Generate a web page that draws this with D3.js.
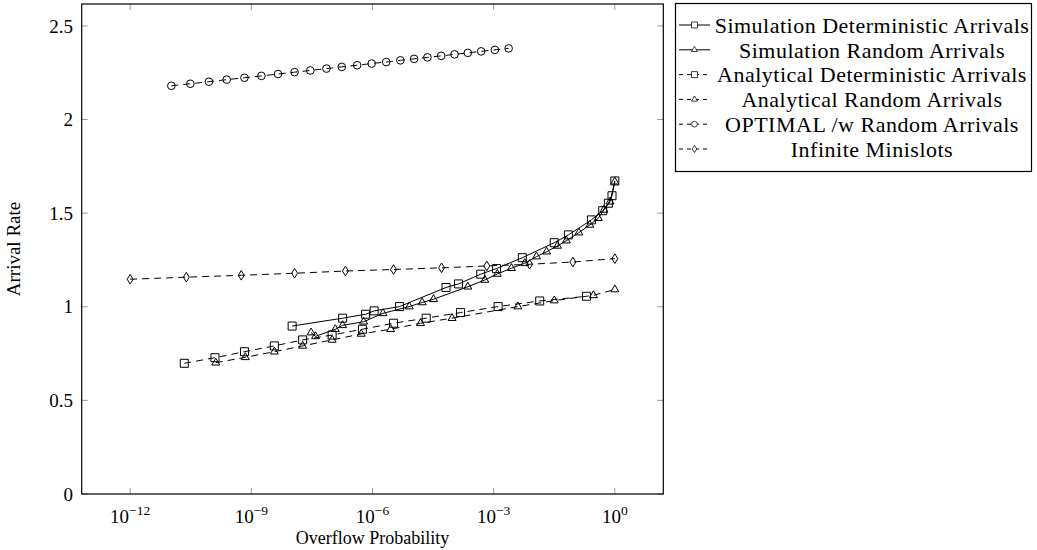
<!DOCTYPE html>
<html lang="en">
<head>
    <meta charset="UTF-8">
    <title>Arrival Rate vs Overflow Probability</title>
    <script src="https://d3js.org/d3.v7.min.js"></script>
</head>
<style>
    body { margin: 0; background: white; }
    text { font-family: "Liberation Serif", "DejaVu Serif", serif; fill: black; }
</style>
<body>
<svg id="main" width="1037" height="550"></svg>
<script>
    // overflow probability is kept as log10 exponent, arrival rate as is
    const simDetLogP  = [-7.99, -6.74, -6.17, -5.96, -5.33, -4.18, -3.87, -3.32, -2.93, -2.29, -1.50, -1.15, -0.58, -0.30, -0.16, -0.07, 0];
    const simDetRate  = [0.897, 0.939, 0.960, 0.978, 1.001, 1.103, 1.122, 1.174, 1.204, 1.262, 1.342, 1.384, 1.464, 1.513, 1.553, 1.593, 1.672];

    const simRndLogP  = [-7.52, -7.41, -6.92, -6.74, -6.22, -5.74, -5.09, -4.77, -4.49, -3.64, -3.22, -2.91, -2.56, -2.23, -1.94, -1.69, -1.42, -1.20, -0.89, -0.62, -0.41, -0.27, -0.12, 0];
    const simRndRate  = [0.862, 0.842, 0.880, 0.901, 0.920, 0.965, 1.001, 1.023, 1.040, 1.107, 1.143, 1.175, 1.206, 1.232, 1.268, 1.294, 1.325, 1.353, 1.396, 1.437, 1.473, 1.517, 1.561, 1.668];

    const anaDetLogP  = [-10.66, -9.90, -9.17, -8.43, -7.73, -7.00, -6.25, -5.48, -4.67, -3.82, -2.89, -1.86, -0.70];
    const anaDetRate  = [0.698, 0.728, 0.760, 0.791, 0.823, 0.849, 0.880, 0.912, 0.939, 0.969, 1.001, 1.031, 1.056];

    const anaRndLogP  = [-9.88, -9.15, -8.43, -7.73, -7.00, -6.28, -5.55, -4.81, -4.03, -2.40, -1.50, -0.53, 0];
    const anaRndRate  = [0.701, 0.730, 0.760, 0.791, 0.823, 0.855, 0.880, 0.912, 0.939, 1.001, 1.033, 1.061, 1.092];

    const optLogP     = [-10.98, -10.51, -10.05, -9.61, -9.17, -8.75, -8.34, -7.93, -7.54, -7.14, -6.76, -6.38, -6.02, -5.66, -5.31, -4.97, -4.64, -4.30, -3.97, -3.64, -3.31, -2.97, -2.63];
    const optRate     = [2.180, 2.191, 2.202, 2.213, 2.223, 2.233, 2.243, 2.253, 2.262, 2.272, 2.281, 2.290, 2.299, 2.307, 2.316, 2.324, 2.332, 2.340, 2.348, 2.356, 2.364, 2.372, 2.380];

    const infLogP     = [-12, -10.61, -9.25, -7.93, -6.67, -5.48, -4.29, -3.17, -2.11, -1.04, 0];
    const infRate     = [1.147, 1.158, 1.168, 1.179, 1.191, 1.199, 1.208, 1.218, 1.227, 1.239, 1.257];

    const xTickExp = [-12, -9, -6, -3, 0];
    const yTicks = [0, 0.5, 1, 1.5, 2, 2.5];

    const series = [
        {name: 'Simulation Deterministic Arrivals', logp: simDetLogP, rate: simDetRate, mark: 'square', dashed: false},
        {name: 'Simulation Random Arrivals', logp: simRndLogP, rate: simRndRate, mark: 'triangle', dashed: false},
        {name: 'Analytical Deterministic Arrivals', logp: anaDetLogP, rate: anaDetRate, mark: 'square', dashed: true},
        {name: 'Analytical Random Arrivals', logp: anaRndLogP, rate: anaRndRate, mark: 'triangle', dashed: true},
        {name: 'OPTIMAL /w Random Arrivals', logp: optLogP, rate: optRate, mark: 'circle', dashed: true},
        {name: 'Infinite Minislots', logp: infLogP, rate: infRate, mark: 'diamond', dashed: true}
    ];

    let svg = d3.select('svg#main');
    let plotLeft = 81.7, plotRight = 663.3, plotTop = 4, plotBottom = 494;

    let xScale = d3.scaleLog()
        .domain([Math.pow(10, -13.2), Math.pow(10, 1.2)])
        .range([plotLeft, plotRight]);
    let yScale = d3.scaleLinear()
        .domain([0, 2.617])
        .range([plotBottom, plotTop]);

    const tickColor = '#9a9a9a';

    // ticks, drawn inwards on all four sides like pgfplots
    let xTickG = svg.append('g');
    xTickExp.forEach(function (e) {
        let px = xScale(Math.pow(10, e));
        xTickG.append('line').attr('x1', px).attr('x2', px).attr('y1', plotBottom).attr('y2', plotBottom - 6)
            .attr('stroke', tickColor);
        xTickG.append('line').attr('x1', px).attr('x2', px).attr('y1', plotTop).attr('y2', plotTop + 6)
            .attr('stroke', tickColor);
        let t = xTickG.append('text').attr('x', px).attr('y', 523).attr('text-anchor', 'middle')
            .style('font-size', '19px');
        t.append('tspan').text('10');
        t.append('tspan').attr('dy', -8).style('font-size', '13.5px').text(e === 0 ? '0' : '\u2212' + (-e));
    });

    let yTickG = svg.append('g');
    yTicks.forEach(function (v) {
        let py = yScale(v);
        yTickG.append('line').attr('x1', plotLeft).attr('x2', plotLeft + 6).attr('y1', py).attr('y2', py)
            .attr('stroke', tickColor);
        yTickG.append('line').attr('x1', plotRight).attr('x2', plotRight - 6).attr('y1', py).attr('y2', py)
            .attr('stroke', tickColor);
        yTickG.append('text').attr('x', 73).attr('y', py).attr('dy', '0.35em')
            .attr('text-anchor', 'end').style('font-size', '19px').text(v);
    });

    // frame
    svg.append('rect').attr('x', plotLeft).attr('y', plotTop)
        .attr('width', plotRight - plotLeft).attr('height', plotBottom - plotTop)
        .attr('fill', 'none').attr('stroke', 'black').attr('stroke-width', 1.2);

    svg.append('text').attr('x', (plotLeft + plotRight) / 2).attr('y', 544)
        .attr('text-anchor', 'middle').style('font-size', '18px').text('Overflow Probability');
    svg.append('text').attr('transform', 'translate(20,' + ((plotTop + plotBottom) / 2) + ') rotate(-90)')
        .attr('text-anchor', 'middle').style('font-size', '19px').text('Arrival Rate');

    function markPath(kind) {
        if (kind === 'square') return d3.symbol(d3.symbolSquare, 64)();
        if (kind === 'triangle') return 'M0,-4.6L4,2.3L-4,2.3Z';
        if (kind === 'circle') return d3.symbol(d3.symbolCircle, 46)();
        return 'M0,-4.8L3,0L0,4.8L-3,0Z';
    }

    let line = d3.line()
        .x(d => xScale(Math.pow(10, d[0])))
        .y(d => yScale(d[1]));

    let plotG = svg.append('g');
    series.forEach(function (s) {
        let pts = s.logp.map((p, i) => [p, s.rate[i]]);
        plotG.append('path').attr('d', line(pts))
            .attr('fill', 'none').attr('stroke', 'black').attr('stroke-width', 1)
            .attr('stroke-dasharray', s.dashed ? '7,5' : null);
        plotG.selectAll(null).data(pts).enter().append('path')
            .attr('d', markPath(s.mark))
            .attr('transform', d => 'translate(' + xScale(Math.pow(10, d[0])) + ',' + yScale(d[1]) + ')')
            .attr('fill', 'none').attr('stroke', 'black').attr('stroke-width', 1);
    });

    // legend
    let lg = svg.append('g');
    lg.append('rect').attr('x', 675.5).attr('y', 3.5).attr('width', 356).attr('height', 168)
        .attr('fill', 'white').attr('stroke', 'black').attr('stroke-width', 1.2);
    let legendRow = lg.selectAll('.lineLegend').data(series)
        .enter().append('g')
        .attr('class', 'lineLegend')
        .attr('transform', (d, i) => 'translate(0,' + (25 + i * 24.8) + ')');
    legendRow.append('line').attr('x1', 679).attr('x2', 710).attr('y1', 0).attr('y2', 0)
        .attr('stroke', 'black').attr('stroke-width', 1)
        .attr('stroke-dasharray', d => d.dashed ? '4,4' : null);
    legendRow.append('path').attr('d', d => markPath(d.mark))
        .attr('transform', 'translate(694.5,0) scale(0.75)')
        .attr('fill', 'white').attr('stroke', 'black').attr('stroke-width', 1);
    legendRow.append('text').attr('x', 872).attr('y', 0).attr('dy', '0.35em')
        .attr('text-anchor', 'middle').style('font-size', '22px').style('letter-spacing', '0.5px')
        .text(d => d.name);
</script>
</body>
</html>
